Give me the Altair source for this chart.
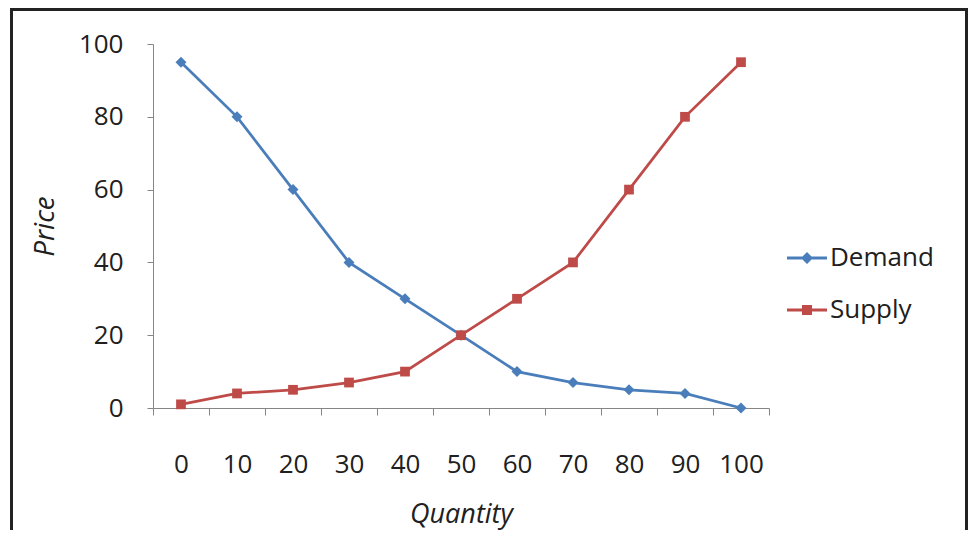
import altair as alt
import pandas as pd

quantities = [0, 10, 20, 30, 40, 50, 60, 70, 80, 90, 100]
demand = [95, 80, 60, 40, 30, 20, 10, 7, 5, 4, 0]
supply = [1, 4, 5, 7, 10, 20, 30, 40, 60, 80, 95]
series_names = ["Demand", "Supply"]
series_colors = ["#4A7EBB", "#BE4B48"]
series_shapes = ["diamond", "square"]
series_sizes = [120, 95]
y_ticks = [0, 20, 40, 60, 80, 100]

rows = []
for q, d in zip(quantities, demand):
    rows.append({"quantity": q, "price": d, "series": "Demand"})
for q, s in zip(quantities, supply):
    rows.append({"quantity": q, "price": s, "series": "Supply"})
df = pd.DataFrame(rows)

FONT = "Open Sans"
TXT = "#202020"
AX = "#868686"

x_enc = alt.X(
    "quantity:O",
    sort=quantities,
    bandPosition=0.5,
    scale=alt.Scale(type="band", paddingInner=0, paddingOuter=0),
    axis=alt.Axis(
        title="Quantity",
        labelAngle=0,
        labelFontSize=26,
        labelColor=TXT,
        labelPadding=36,
        tickBand="extent",
        tickSize=7,
        tickColor=AX,
        domainColor=AX,
        grid=False,
        titleFontSize=27,
        titleFontStyle="italic",
        titleFontWeight="normal",
        titleColor=TXT,
        titleY=114,
        titleBaseline="alphabetic",
    ),
)
y_enc = alt.Y(
    "price:Q",
    scale=alt.Scale(domain=[0, 100], nice=False),
    axis=alt.Axis(
        title="Price",
        values=y_ticks,
        labelFontSize=26,
        labelColor=TXT,
        labelPadding=24,
        tickSize=6,
        tickColor=AX,
        domainColor=AX,
        grid=False,
        titleFontSize=28,
        titleFontStyle="italic",
        titleFontWeight="normal",
        titleColor=TXT,
        titleAngle=270,
        titleX=-100,
        titleY=182,
        titleAlign="center",
        titleBaseline="alphabetic",
    ),
)

base = alt.Chart(df)

layers = []
border = alt.Chart(pd.DataFrame({"a": [0]})).mark_rect(
    filled=False, stroke="#222222", strokeWidth=3
).encode(
    x=alt.value(-141.5), x2=alt.value(813.5),
    y=alt.value(-34.5), y2=alt.value(600),
)
layers.append(border)

for name, col, shp, sz in zip(series_names, series_colors, series_shapes, series_sizes):
    sub = base.transform_filter(alt.datum.series == name)
    layers.append(sub.mark_line(strokeWidth=2.75, color=col).encode(x=x_enc, y=y_enc))
    layers.append(
        sub.mark_point(shape=shp, filled=True, size=sz, opacity=1, color=col).encode(x=x_enc, y=y_enc)
    )

legend_paths = [
    "M-1,-0.07L1,-0.07L1,0.07L-1,0.07Z M0,-0.3L0.3,0L0,0.3L-0.3,0Z",
    "M-1,-0.07L1,-0.07L1,0.07L-1,0.07Z M-0.25,-0.25L0.25,-0.25L0.25,0.25L-0.25,0.25Z",
]

legend_layer = base.transform_filter("false").mark_point(
    filled=True, size=1600, opacity=1
).encode(
    x=x_enc, y=y_enc,
    color=alt.Color(
        "series:N", scale=alt.Scale(domain=series_names, range=series_colors),
        legend=alt.Legend(
            title=None, orient="none", legendX=634, legendY=194,
            symbolSize=1600, symbolOpacity=1, symbolStrokeWidth=0,
            labelFontSize=26, labelColor=TXT, labelOffset=3,
            rowPadding=19, padding=0,
        ),
    ),
    shape=alt.Shape("series:N", scale=alt.Scale(domain=series_names, range=legend_paths)),
)
layers.append(legend_layer)

chart = alt.layer(*layers).properties(
    width=616, height=364,
    autosize=alt.AutoSizeParams(type="none"),
    padding={"left": 145, "top": 36, "right": 199, "bottom": 122},
).configure(font=FONT).configure_view(stroke=None)

chart.save("out.html", embed_options={"renderer": "svg", "actions": False})
